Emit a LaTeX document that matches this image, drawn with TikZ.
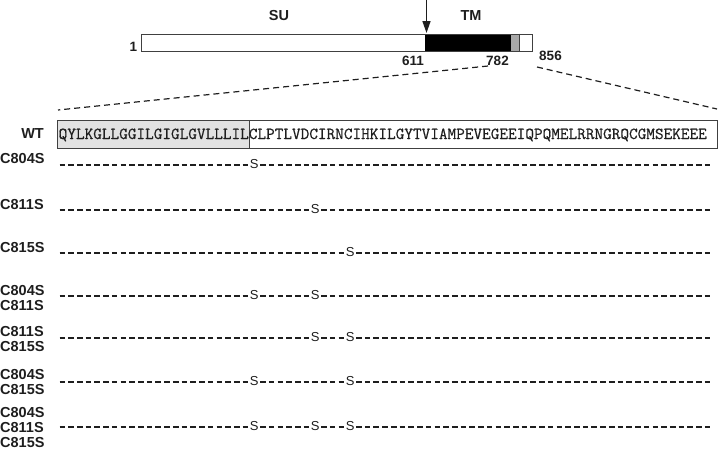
\documentclass[tikz,border=0pt]{standalone}
\usepackage{fontspec}
\setmainfont{Liberation Sans}
\newfontfamily\labfont{Liberation Sans}
\newfontfamily\seqfont[FakeBold=0.6]{Latin Modern Mono}
\usetikzlibrary{arrows.meta}
\definecolor{ink}{HTML}{1E1E1E}
\definecolor{lightbox}{HTML}{E2E2E2}
\definecolor{midgray}{HTML}{A8A8A8}
\tikzset{
  lab/.style={font=\labfont\bfseries\fontsize{14.5}{15}\selectfont, text=ink, inner sep=0pt, align=left},
  numlab/.style={font=\labfont\bfseries\fontsize{13.5}{15}\selectfont, text=ink, inner sep=0pt},
  seqtext/.style={font=\seqfont\fontsize{16.78}{18}\selectfont, text=ink, inner sep=0pt},
  sglyph/.style={font=\labfont\fontsize{13}{14}\selectfont, text=ink, inner sep=0pt},
  rowdash/.style={line width=1.3pt, draw=ink},
  zoomline/.style={dashed, dash pattern=on 6pt off 4pt, line width=1.2pt, draw=ink},
  boxline/.style={line width=1pt, draw=ink!85}
}
\newcommand\mutrow[3]{% #1 name, #2 y, #3 list of S positions
  \foreach \i in {1,...,75}{
    \gdef\isS{0}
    \foreach \s in {#3}{\ifnum\i=\s\relax\gdef\isS{1}\fi}
    \pgfmathsetmacro\cx{58+(\i-0.5)*8.72}
    \ifnum\isS=1
      \node[sglyph] (#1-\i) at (\cx,#2-1) {S};
    \else
      \draw[rowdash] (\cx-2.8,#2) -- (\cx+2.8,#2);
    \fi
  }
}
\begin{document}
\begin{tikzpicture}[x=1pt,y=-1pt]
\useasboundingbox (0,0) rectangle (718,453);
% precursor bar
\fill[black] (424.5,33.5) rectangle (511,50.5);
\fill[midgray] (511,33.5) rectangle (519,50.5);
\draw[boxline] (519,33.5) -- (519,50.5);
\node[boxline, draw, minimum width=391pt, minimum height=17pt, anchor=north west, inner sep=0pt] (bar) at (140.5,33.5) {};
\coordinate (cleave) at (426.5,33);
\coordinate (arrtop) at (426.5,0);
\draw[-{Triangle[length=12pt,width=8pt]}, line width=1.5pt, draw=ink] (arrtop) -- (cleave);
\node[numlab, font=\labfont\bfseries\fontsize{14.5}{15}\selectfont] (su) at (279,16) {SU};
\node[numlab, font=\labfont\bfseries\fontsize{14.5}{15}\selectfont] (tm) at (471,16) {TM};
\node[numlab] (n1) at (133.5,46.5) {1};
\node[numlab] (n611) at (413,60.5) {611};
\node[numlab] (n782) at (497.5,60.5) {782};
\node[numlab] (n856) at (550.5,55.5) {856};
% zoom lines
\coordinate (zl1) at (488,66);
\coordinate (zl2) at (58,110);
\coordinate (zr1) at (537,67);
\coordinate (zr2) at (717,109);
\draw[zoomline] (zl1) -- (zl2);
\draw[zoomline] (zr1) -- (zr2);
% WT box
\fill[lightbox] (57,120) rectangle (249,148);
\node[boxline, draw, minimum width=660pt, minimum height=28pt, anchor=north west, inner sep=0pt] (wtbox) at (57,120) {};
\draw[boxline] (249,120) -- (249,148);
\node[seqtext, anchor=base west] (seq) at (58.5,139) {QYLKGLLGGILGIGLGVLLLILCLPTLVDCIRNCIHKILGYTVIAMPEVEGEEIQPQMELRRNGRQCGMSEKEEE};
\node[lab, anchor=east] (wt) at (44,134) {WT};
% mutant rows
\node[lab, anchor=west] (l1) at (0,159) {C804S};
\mutrow{r1}{165}{23}
\node[lab, anchor=west] (l2) at (0,205) {C811S};
\mutrow{r2}{210}{30}
\node[lab, anchor=west] (l3) at (0,248) {C815S};
\mutrow{r3}{253}{34}
\node[lab, anchor=west] (l4) at (0,298.5) {C804S\\C811S};
\mutrow{r4}{296}{23,30}
\node[lab, anchor=west] (l5) at (0,339) {C811S\\C815S};
\mutrow{r5}{338}{30,34}
\node[lab, anchor=west] (l6) at (0,382.5) {C804S\\C815S};
\mutrow{r6}{382}{23,34}
\node[lab, anchor=west] (l7) at (0,428) {C804S\\C811S\\C815S};
\mutrow{r7}{427}{23,30,34}
\end{tikzpicture}
\end{document}
